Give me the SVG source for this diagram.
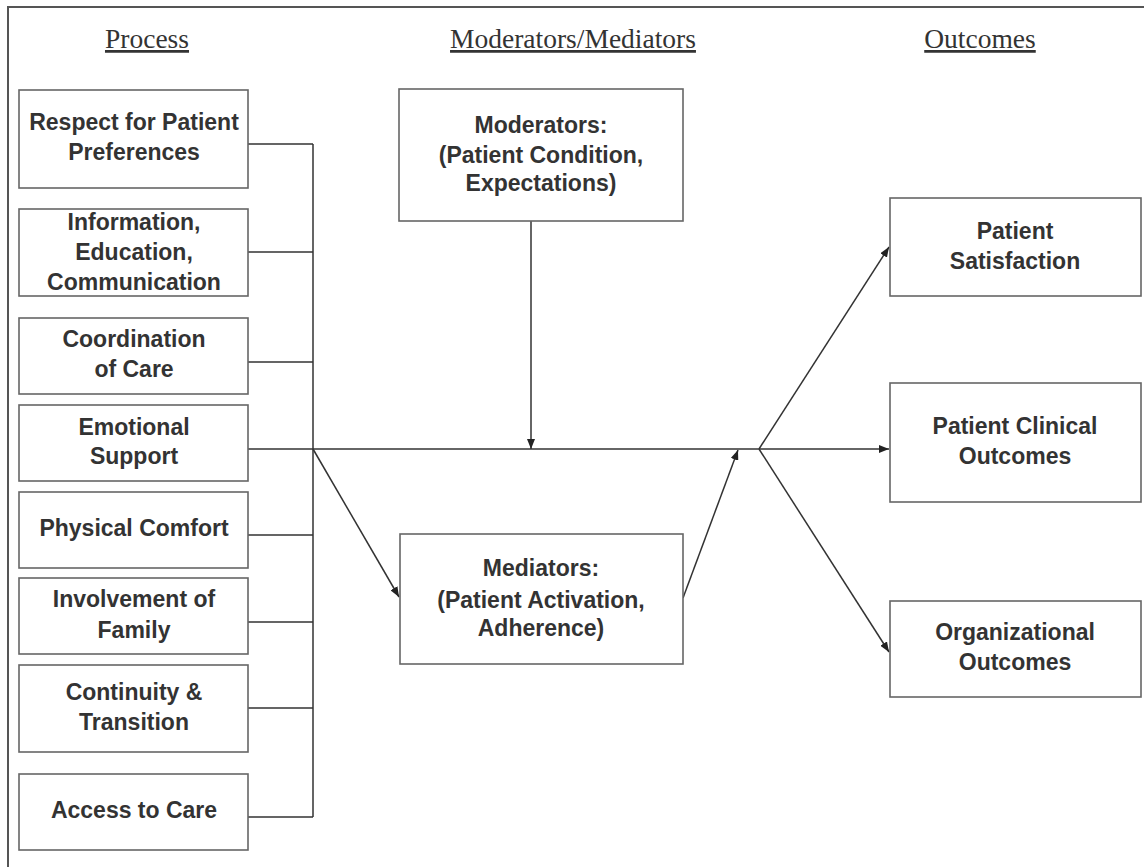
<svg xmlns="http://www.w3.org/2000/svg" width="1144" height="867" viewBox="0 0 1144 867">
<style>
.box{fill:#fff;stroke:#666;stroke-width:1.6}
.t{font-family:"Liberation Sans",Arial,sans-serif;font-weight:bold;font-size:23px;fill:#333;text-anchor:middle}
.h{font-family:"Liberation Serif","Times New Roman",serif;font-size:27.5px;fill:#333;text-anchor:middle;text-decoration:underline}
.c{fill:none;stroke:#333;stroke-width:1.5}
</style>
<defs>
<marker id="ah" viewBox="0 0 10 8" refX="10" refY="4" markerWidth="10" markerHeight="8" markerUnits="userSpaceOnUse" orient="auto">
<path d="M0,0 L10,4 L0,8 Z" fill="#222"/>
</marker>
</defs>
<rect width="1144" height="867" fill="#fff"/>
<path d="M8,867 V7 H1144" fill="none" stroke="#555" stroke-width="2"/>
<g id="headings">
<text class="h" x="147" y="48">Process</text>
<text class="h" x="573" y="48">Moderators/Mediators</text>
<text class="h" x="980" y="48">Outcomes</text>
</g>
<g id="connectors">
<path class="c" d="M248,144 H313 M248,252 H313 M248,362 H313 M248,535 H313 M248,622 H313 M248,708 H313 M248,817 H313 M313,144 V817"/>
<path class="c" d="M248,449 H759"/>
<path class="c" d="M531,221 V449" marker-end="url(#ah)"/>
<path class="c" d="M313,449 L399,597" marker-end="url(#ah)"/>
<path class="c" d="M683,598 L738,450" marker-end="url(#ah)"/>
<path class="c" d="M759,449 H889" marker-end="url(#ah)"/>
<path class="c" d="M759,449 L889,247" marker-end="url(#ah)"/>
<path class="c" d="M759,449 L889,652" marker-end="url(#ah)"/>
</g>
<g id="respect">
<rect class="box" x="19" y="90" width="229" height="98"/>
<text class="t" x="134" y="130">Respect for Patient</text>
<text class="t" x="134" y="160">Preferences</text>
</g>
<g id="information">
<rect class="box" x="19" y="209" width="229" height="87"/>
<text class="t" x="134" y="230">Information,</text>
<text class="t" x="134" y="260">Education,</text>
<text class="t" x="134" y="290">Communication</text>
</g>
<g id="coordination">
<rect class="box" x="19" y="318" width="229" height="76"/>
<text class="t" x="134" y="347">Coordination</text>
<text class="t" x="134" y="377">of Care</text>
</g>
<g id="emotional">
<rect class="box" x="19" y="405" width="229" height="76"/>
<text class="t" x="134" y="435">Emotional</text>
<text class="t" x="134" y="464">Support</text>
</g>
<g id="physical">
<rect class="box" x="19" y="492" width="229" height="76"/>
<text class="t" x="134" y="536">Physical Comfort</text>
</g>
<g id="involvement">
<rect class="box" x="19" y="578" width="229" height="76"/>
<text class="t" x="134" y="607">Involvement of</text>
<text class="t" x="134" y="638">Family</text>
</g>
<g id="continuity">
<rect class="box" x="19" y="665" width="229" height="87"/>
<text class="t" x="134" y="700">Continuity &amp;</text>
<text class="t" x="134" y="730">Transition</text>
</g>
<g id="access">
<rect class="box" x="19" y="774" width="229" height="76"/>
<text class="t" x="134" y="818">Access to Care</text>
</g>
<g id="moderators">
<rect class="box" x="399" y="89" width="284" height="132"/>
<text class="t" x="541" y="133">Moderators:</text>
<text class="t" x="541" y="163">(Patient Condition,</text>
<text class="t" x="541" y="191">Expectations)</text>
</g>
<g id="mediators">
<rect class="box" x="400" y="534" width="283" height="130"/>
<text class="t" x="541" y="576">Mediators:</text>
<text class="t" x="541" y="608">(Patient Activation,</text>
<text class="t" x="541" y="636">Adherence)</text>
</g>
<g id="satisfaction">
<rect class="box" x="890" y="198" width="251" height="98"/>
<text class="t" x="1015" y="239">Patient</text>
<text class="t" x="1015" y="269">Satisfaction</text>
</g>
<g id="clinical">
<rect class="box" x="890" y="383" width="251" height="119"/>
<text class="t" x="1015" y="434">Patient Clinical</text>
<text class="t" x="1015" y="464">Outcomes</text>
</g>
<g id="organizational">
<rect class="box" x="890" y="601" width="251" height="96"/>
<text class="t" x="1015" y="640">Organizational</text>
<text class="t" x="1015" y="670">Outcomes</text>
</g>
</svg>
